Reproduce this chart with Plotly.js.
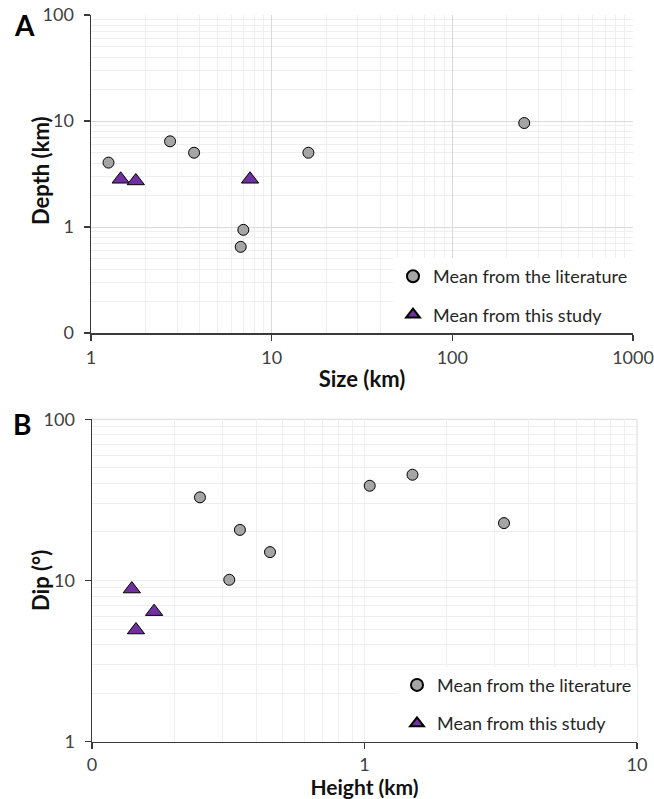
<!DOCTYPE html>
<html>
<head>
<meta charset="utf-8">
<script src="https://cdn.plot.ly/plotly-3.0.1.min.js"></script>
<style>html,body{margin:0;padding:0;background:#fff;}#chart{width:654px;height:799px;}</style>
</head>
<body>
<div id="chart"></div>
<script>
// Panel A: Size vs Depth
const sizeLit = [1.25, 2.74, 3.72, 6.97, 6.74, 15.97, 250];
const depthLit = [4.05, 6.43, 5.02, 0.94, 0.65, 5.02, 9.57];
const sizeStudy = [1.46, 1.77, 7.59];
const depthStudy = [2.82, 2.72, 2.82];
// Panel B: Height vs Dip
const heightLit = [0.249, 0.349, 0.45, 0.319, 1.045, 1.50, 3.25];
const dipLit = [32.8, 20.6, 15.0, 10.1, 38.7, 45.3, 22.7];
const heightStudy = [0.140, 0.145, 0.169];
const dipStudy = [8.85, 4.93, 6.41];
// Tick labels
const aXTicks = [1, 10, 100, 1000], aXText = ['1', '10', '100', '1000'];
const aYTicks = [0.1, 1, 10, 100], aYText = ['0', '1', '10', '100'];
const bXTicks = [0.1, 1, 10], bXText = ['0', '1', '10'];
const bYTicks = [1, 10, 100], bYText = ['1', '10', '100'];
const litName = 'Mean from the literature';
const studyName = 'Mean from this study';

const FONT = 'Lato, Calibri, Carlito, sans-serif';
const circ = {symbol: 'circle', size: 11, color: '#a5a5a5', line: {color: '#000', width: 1}};
const tri = {symbol: 'triangle-up', size: 15, color: '#7030a0', line: {color: '#000', width: 1}};

const traces = [
  {x: sizeLit, y: depthLit, mode: 'markers', name: litName, marker: circ, xaxis: 'x', yaxis: 'y', legend: 'legend', legendgroup: 'a1'},
  {x: sizeStudy, y: depthStudy, mode: 'markers', name: studyName, marker: tri, xaxis: 'x', yaxis: 'y', legend: 'legend', legendgroup: 'a2'},
  {x: heightLit, y: dipLit, mode: 'markers', name: litName, marker: circ, xaxis: 'x2', yaxis: 'y2', legend: 'legend2', legendgroup: 'b1'},
  {x: heightStudy, y: dipStudy, mode: 'markers', name: studyName, marker: tri, xaxis: 'x2', yaxis: 'y2', legend: 'legend2', legendgroup: 'b2'}
];

const tickFont = {family: FONT, size: 18, color: '#404040'};
const titleFont = {family: FONT, size: 22, color: '#111', weight: 'bold'};
const majorGrid = '#d9d9d9', minorGrid = '#efefef';
const axLine = {showline: true, linecolor: '#3a3a3a', linewidth: 1.5, ticks: 'outside', ticklen: 6, tickcolor: '#3a3a3a', tickwidth: 1.5, zeroline: false, tickfont: tickFont, automargin: false};

const legendBase = {bgcolor: '#ffffff', borderwidth: 0, font: {family: FONT, size: 18, color: '#262626'}, traceorder: 'grouped', tracegroupgap: 12, xanchor: 'right', yanchor: 'bottom', itemwidth: 30, itemsizing: 'constant'};

const layout = {
  width: 654, height: 799,
  margin: {l: 0, r: 0, t: 0, b: 0},
  paper_bgcolor: '#fff', plot_bgcolor: '#fff',
  showlegend: true,
  xaxis: Object.assign({}, axLine, {type: 'log', domain: [91/654, 633/654], range: [0, 3], anchor: 'y',
    tickvals: aXTicks, ticktext: aXText, showgrid: true, gridcolor: majorGrid, gridwidth: 1, ticklabelstandoff: 2,
    minor: {dtick: 'D1', showgrid: true, gridcolor: minorGrid, ticks: ''},
    title: {text: 'Size (km)', font: titleFont, standoff: 4}}),
  yaxis: Object.assign({}, axLine, {type: 'log', domain: [1 - 333/799, 1 - 15/799], range: [-1, 2], anchor: 'x',
    tickvals: aYTicks, ticktext: aYText, showgrid: true, gridcolor: majorGrid, gridwidth: 1, ticklabelstandoff: 6,
    minor: {dtick: 'D1', showgrid: true, gridcolor: minorGrid, ticks: ''}}),
  xaxis2: Object.assign({}, axLine, {type: 'log', domain: [92/654, 637/654], range: [-1, 1], anchor: 'y2',
    tickvals: bXTicks, ticktext: bXText, showgrid: false, ticklabelstandoff: 0,
    minor: {dtick: 'D1', showgrid: true, gridcolor: minorGrid, ticks: ''},
    title: {text: 'Height (km)', font: Object.assign({}, titleFont, {size: 21}), standoff: 5}}),
  yaxis2: Object.assign({}, axLine, {type: 'log', domain: [1 - 741.7/799, 1 - 419.3/799], range: [0, 2], anchor: 'x2',
    tickvals: bYTicks, ticktext: bYText, showgrid: false, ticklabelstandoff: 6,
    minor: {dtick: 'D1', showgrid: true, gridcolor: minorGrid, ticks: ''}}),
  legend: Object.assign({}, legendBase, {x: 633/654, y: 1 - 333/799}),
  legend2: Object.assign({}, legendBase, {x: 637/654, y: 1 - 741.7/799}),
  shapes: [
    {type: 'line', xref: 'x2 domain', yref: 'y2 domain', x0: 0, x1: 1, y0: 1, y1: 1, line: {color: majorGrid, width: 1}, layer: 'below'},
    {type: 'line', xref: 'x2 domain', yref: 'y2 domain', x0: 1, x1: 1, y0: 0, y1: 1, line: {color: majorGrid, width: 1}, layer: 'below'}
  ],
  annotations: [
    {text: '<b>A</b>', xref: 'paper', yref: 'paper', x: 24/654, y: 1 - 25/799, xanchor: 'center', yanchor: 'middle', showarrow: false, font: {family: FONT, size: 28, color: '#000'}},
    {text: '<b>B</b>', xref: 'paper', yref: 'paper', x: 22/654, y: 1 - 424/799, xanchor: 'center', yanchor: 'middle', showarrow: false, font: {family: FONT, size: 28, color: '#000'}},
    {text: '<b>Depth (km)</b>', xref: 'paper', yref: 'paper', x: 40/654, y: 1 - 171/799, xanchor: 'center', yanchor: 'middle', textangle: -90, showarrow: false, font: titleFont},
    {text: '<b>Dip (°)</b>', xref: 'paper', yref: 'paper', x: 40/654, y: 1 - 581/799, xanchor: 'center', yanchor: 'middle', textangle: -90, showarrow: false, font: titleFont}
  ]
};

Plotly.newPlot('chart', traces, layout, {displayModeBar: false, staticPlot: true});
</script>
</body>
</html>
